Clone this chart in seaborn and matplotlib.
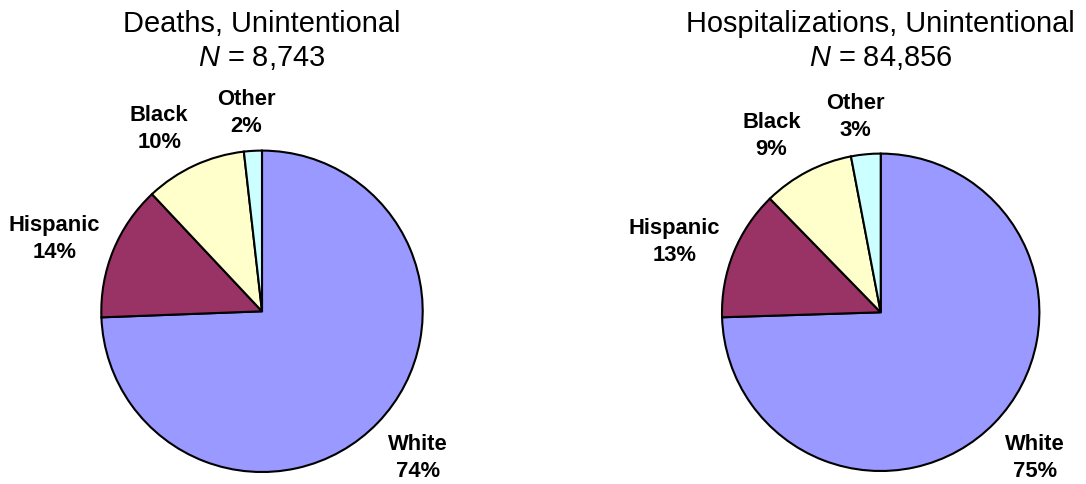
import matplotlib
matplotlib.use("Agg")
import matplotlib.pyplot as plt
import matplotlib.transforms as mtransforms
import numpy as np
import seaborn as sns

# data
groups = ["White", "Hispanic", "Black", "Other"]
deaths_share = [74.4, 13.6, 10.2, 1.8]
deaths_label_pct = [74, 14, 10, 2]
hosp_share = [74.5, 13.2, 9.3, 3.0]
hosp_label_pct = [75, 13, 9, 3]
titles = ["Deaths, Unintentional", "Hospitalizations, Unintentional"]
totals = ["8,743", "84,856"]
slice_colors = ["#9999FF", "#993366", "#FFFFCC", "#CCFFFF"]

sns.set_theme(style="white")
plt.rcParams["font.family"] = ["Liberation Sans", "DejaVu Sans"]
plt.rcParams["mathtext.fontset"] = "custom"
plt.rcParams["mathtext.it"] = "Liberation Sans:italic"
plt.rcParams["mathtext.rm"] = "Liberation Sans"

W, H = 1086, 485
PAD = 1.1
fig = plt.figure(figsize=(W / 100, H / 100), dpi=100)


def draw_pie(center, radius, shares, pcts, title, total):
    """
    Draws one pie with Excel-style outside labels and a two-line title.
    """
    cx, cy = center
    half = radius * PAD
    ax = fig.add_axes([(cx - half) / W, (H - cy - half) / H, 2 * half / W, 2 * half / H])
    wedges, _ = ax.pie(
        shares,
        colors=slice_colors,
        startangle=90,
        counterclock=False,
        radius=1,
        wedgeprops=dict(edgecolor="black", linewidth=1.5),
    )
    ax.set_xlim(-PAD, PAD)
    ax.set_ylim(-PAD, PAD)
    ax.axis("off")

    renderer = fig.canvas.get_renderer()
    for w, name, pct in zip(wedges, groups, pcts):
        mid = np.deg2rad((w.theta1 + w.theta2) / 2)
        ux, uy = np.cos(mid), np.sin(mid)
        px, py = 1.09 * ux, 1.09 * uy
        t = ax.text(px, py, f"{name}\n{pct}%", ha="center", va="center",
                    fontsize=15.8, fontweight="bold", linespacing=1.38,
                    color="black", clip_on=False)
        bb = t.get_window_extent(renderer)
        # push the label box outward, like Excel's best-fit labels
        sx = np.clip(ux / 0.3, -1, 1)
        if uy < 0:
            sy = -1.0
        else:
            sy = min(1.0, uy / 0.9) ** 1.5
        disp = ax.transData.transform((px, py)) + np.array([sx * bb.width / 2, sy * bb.height / 2])
        t.set_position(ax.transData.inverted().transform(disp))

    trans = mtransforms.blended_transform_factory(ax.transData, fig.transFigure)
    ax.text(0, 1 - 32.3 / H, title, transform=trans, ha="center", va="baseline",
            fontsize=20.9, color="black")
    ax.text(0, 1 - 65.7 / H, f"$N$ = {total}", transform=trans, ha="center",
            va="baseline", fontsize=20.9, color="black")


draw_pie((262, 312.3), 160.7, deaths_share, deaths_label_pct, titles[0], totals[0])
draw_pie((880.7, 313.3), 158.7, hosp_share, hosp_label_pct, titles[1], totals[1])

fig.savefig("out.png", dpi=100, facecolor="white")
